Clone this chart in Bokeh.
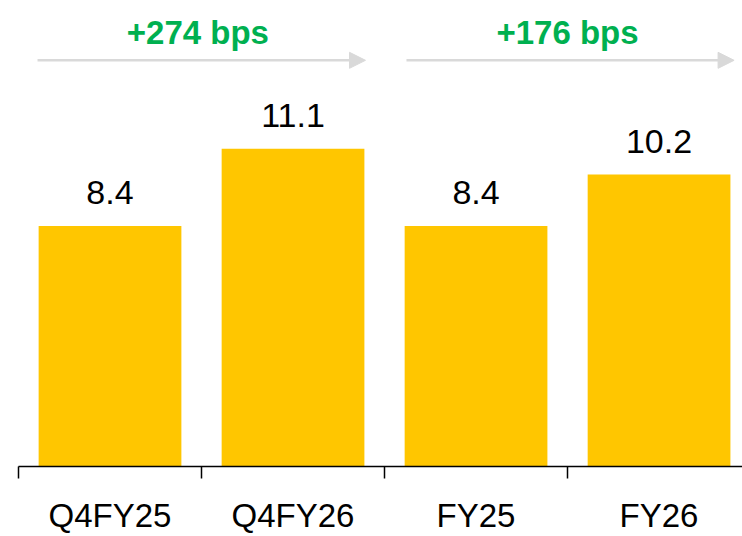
from bokeh.plotting import figure
from bokeh.models import (ColumnDataSource, LabelSet, Range1d, FixedTicker,
                          Arrow, NormalHead, Label)
from bokeh.core.properties import value
from bokeh.embed import file_html
from bokeh.resources import INLINE

categories = ["Q4FY25", "Q4FY26", "FY25", "FY26"]
values = [8.4, 11.1, 8.4, 10.2]
value_labels = ["8.4", "11.1", "8.4", "10.2"]
changes = ["+274 bps", "+176 bps"]

xs = list(range(len(categories)))
src = ColumnDataSource(dict(x=xs, top=values, label=value_labels))

p = figure(width=742, height=536, output_backend="svg", toolbar_location=None,
           x_range=Range1d(-0.5, 3.456), y_range=Range1d(0, 16.28),
           min_border_left=18, min_border_right=0, min_border_top=0,
           min_border_bottom=68)
p.outline_line_color = None
p.grid.grid_line_color = None
p.yaxis.visible = False
p.background_fill_color = "white"
p.border_fill_color = "white"

p.vbar(x="x", top="top", bottom=0, width=0.78, source=src,
       fill_color="#FFC600", line_color=None)

p.add_layout(LabelSet(x="x", y="top", text="label", source=src,
                      text_align="center", text_baseline="alphabetic",
                      y_offset=22, text_font_size=value("34px"),
                      text_font=value("Liberation Sans"),
                      text_color=value("#000000")))

ax = p.xaxis[0]
ax.ticker = FixedTicker(ticks=xs, minor_ticks=[-0.5, 0.5, 1.5, 2.5, 3.5])
ax.major_label_overrides = {i: c for i, c in zip(xs, categories)}
ax.major_tick_line_color = None
ax.major_tick_out = 0
ax.major_tick_in = 0
ax.minor_tick_in = 0
ax.minor_tick_out = 12
ax.minor_tick_line_color = "#000000"
ax.minor_tick_line_width = 1.5
ax.axis_line_color = "#000000"
ax.axis_line_width = 1.5
ax.major_label_text_font = "Liberation Sans"
ax.major_label_text_font_size = "33px"
ax.major_label_text_color = "#000000"
ax.major_label_standoff = 18

arrow_spans = [(-0.396, 1.396), (1.62, 3.41)]
text_x = [0.48, 2.5]
for (x0, x1), tx, txt in zip(arrow_spans, text_x, changes):
    p.add_layout(Arrow(x_start=x0, y_start=14.19, x_end=x1, y_end=14.19,
                       line_color="#D9D9D9", line_width=2.5,
                       end=NormalHead(size=16, fill_color="#D9D9D9",
                                      line_color="#D9D9D9")))
    p.add_layout(Label(x=tx, y=15.17, text=txt, text_align="center",
                       text_baseline="alphabetic", text_font_size="33px",
                       text_font="Liberation Sans", text_font_style="bold",
                       text_color="#00B050"))

open("out.html", "w").write(file_html(p, INLINE))
